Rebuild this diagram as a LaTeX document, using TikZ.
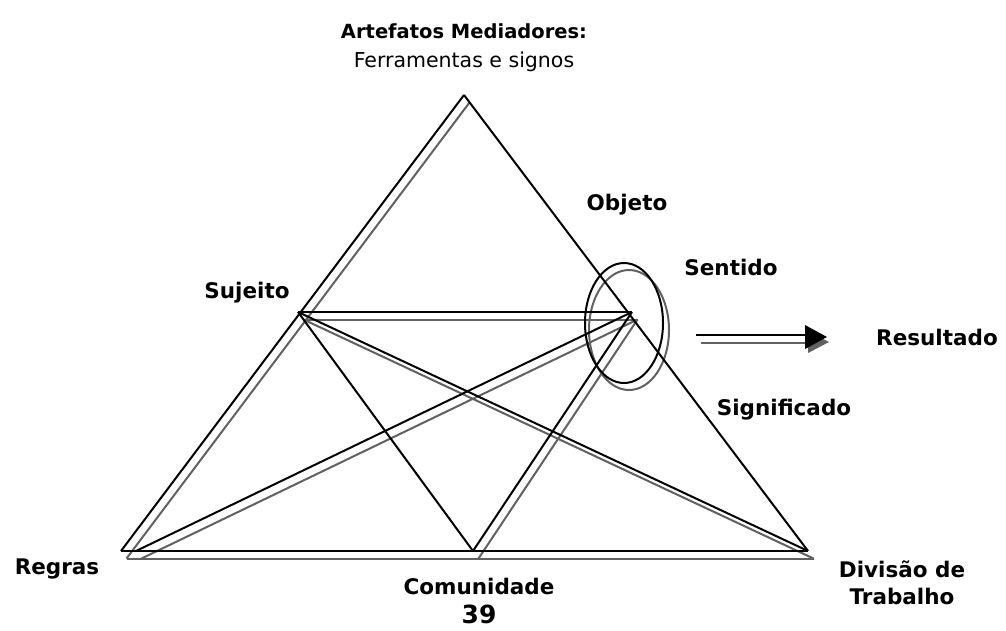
\documentclass[tikz,border=0pt]{standalone}
\usepackage{fontspec}
\setmainfont{DejaVu Sans}
\begin{document}
\begin{tikzpicture}[x=1pt,y=-1pt,
  blk/.style={draw=black,line width=2pt},
  gry/.style={draw=black!62,line width=2pt},
  lbl/.style={font=\bfseries\fontsize{21.5}{26}\selectfont,inner sep=0pt,align=center},
  ttl/.style={font=\bfseries\fontsize{19.5}{22}\selectfont,inner sep=0pt},
  reg/.style={font=\fontsize{20.5}{22}\selectfont,inner sep=0pt}]
\useasboundingbox (0,0) rectangle (1006,630);
% black vertices
\coordinate (A) at (464,95);
\coordinate (L) at (121,551);
\coordinate (R) at (808,551);
\coordinate (S) at (298,312);
\coordinate (O) at (632,312);
\coordinate (C) at (473,551);
\coordinate (Lr) at (136,551);
% grey vertices
\coordinate (gA) at (469.5,102.5);
\coordinate (gL) at (126.5,558.5);
\coordinate (gR) at (813.5,558.5);
\coordinate (gS) at (303.5,319.5);
\coordinate (gO) at (637.5,319.5);
\coordinate (gC) at (478.5,558.5);
\coordinate (gLr) at (141.5,558.5);
% grey copy
\draw[gry] (gA) -- (gL);
\draw[gry] (gL) -- (gR);
\draw[gry] (gS) -- (gO);
\draw[gry] (gS) -- (gR);
\draw[gry] (gLr) -- (gO);
\draw[gry] (gO) -- (gC);
\draw[gry] (629,330) ellipse [x radius=40,y radius=60];
% black
\draw[blk] (A) -- (L);
\draw[blk] (A) -- (R);
\draw[blk] (L) -- (R);
\draw[blk] (S) -- (O);
\draw[blk] (S) -- (R);
\draw[blk] (S) -- (C);
\draw[blk] (Lr) -- (O);
\draw[blk] (O) -- (C);
\draw[blk] (624,323) ellipse [x radius=39,y radius=60];
% result arrow
\coordinate (a1) at (696,335);
\coordinate (a2) at (808,335);
\coordinate (g1) at (701,343);
\coordinate (g2) at (810,343);
\draw[gry] (g1) -- (g2);
\fill[black!62] (808,331) -- (829,342) -- (808,353) -- cycle;
\draw[blk] (a1) -- (a2);
\fill[black] (805,325) -- (827,337) -- (805,349) -- cycle;
% labels
\node[ttl] (t1) at (464,31) {Artefatos Mediadores:};
\node[reg] (t2) at (464,62) {Ferramentas e signos};
\node[lbl] (obj) at (627,205) {Objeto};
\node[lbl] (sen) at (731,267) {Sentido};
\node[lbl] (suj) at (247,293) {Sujeito};
\node[lbl] (res) at (937,337) {Resultado};
\node[lbl] (sig) at (784,410) {Significado};
\node[lbl] (reg) at (57,569) {Regras};
\node[lbl] (com) at (479,586) {Comunidade};
\node[lbl,font=\bfseries\fontsize{25}{28}\selectfont] (num) at (479,614) {39};
\node[lbl] (div) at (902,569) {Divisão de};
\node[lbl] (trab) at (902,596) {Trabalho};
\end{tikzpicture}
\end{document}
